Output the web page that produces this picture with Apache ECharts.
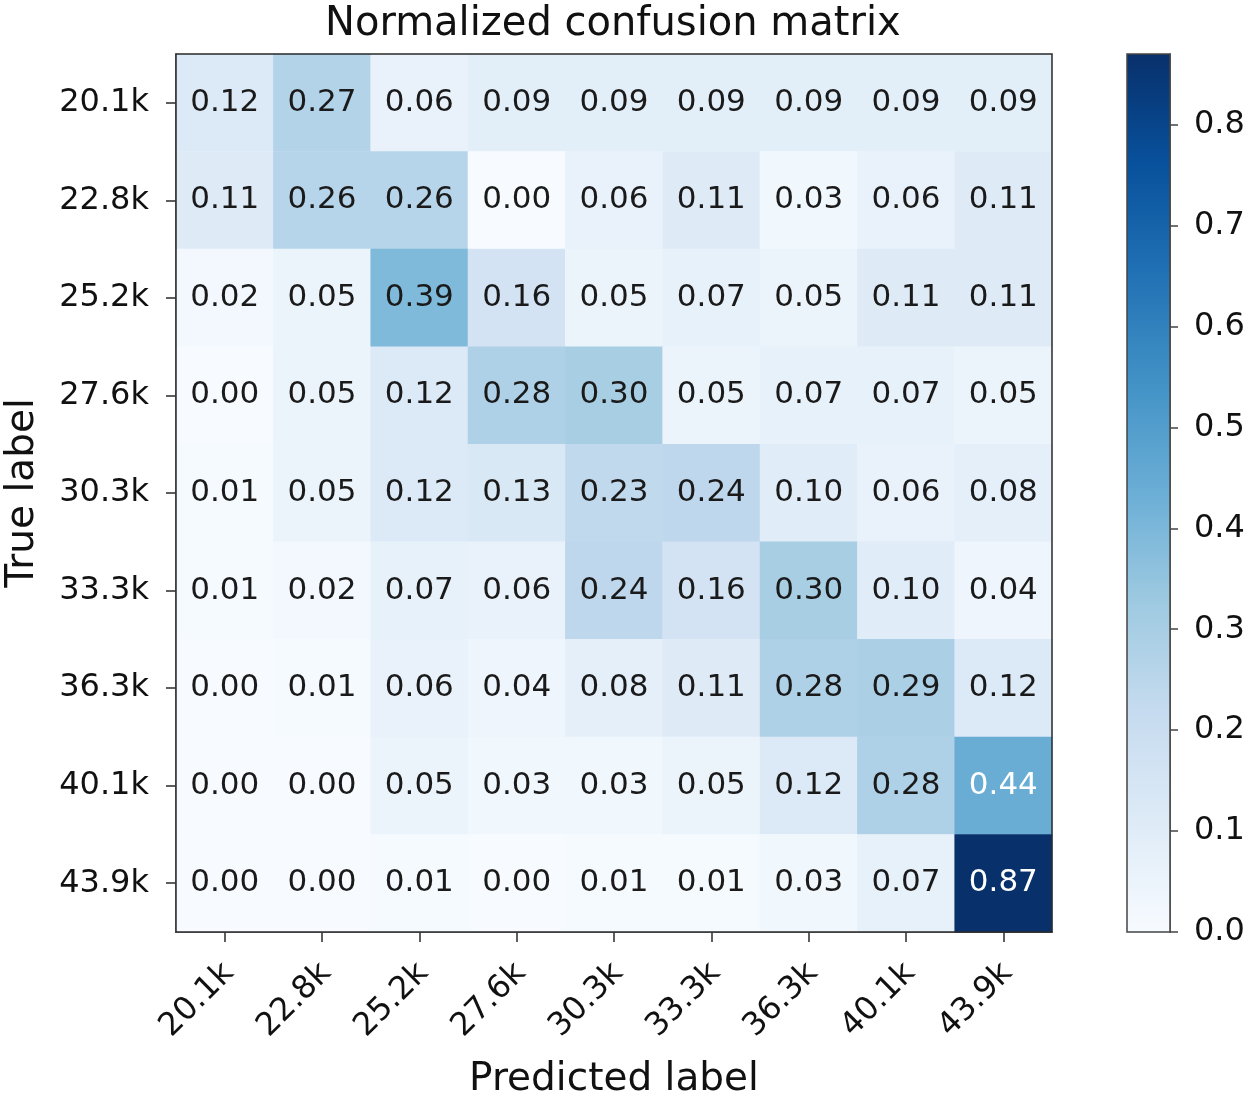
<!DOCTYPE html>
<html>
<head>
<meta charset="utf-8">
<script src="https://cdn.jsdelivr.net/npm/echarts@6/dist/echarts.min.js"></script>
<style>
html,body{margin:0;padding:0;background:#fff;}
#chart{width:1250px;height:1105px;}
</style>
</head>
<body>
<div id="chart"></div>
<script>
// Category labels (true = rows top→bottom, predicted = columns left→right)
var trueLabels = ['20.1k','22.8k','25.2k','27.6k','30.3k','33.3k','36.3k','40.1k','43.9k'];
var predLabels = ['20.1k','22.8k','25.2k','27.6k','30.3k','33.3k','36.3k','40.1k','43.9k'];

// Normalized confusion matrix rows
var row0 = [0.12,0.27,0.06,0.09,0.09,0.09,0.09,0.09,0.09];
var row1 = [0.11,0.26,0.26,0.00,0.06,0.11,0.03,0.06,0.11];
var row2 = [0.02,0.05,0.39,0.16,0.05,0.07,0.05,0.11,0.11];
var row3 = [0.00,0.05,0.12,0.28,0.30,0.05,0.07,0.07,0.05];
var row4 = [0.01,0.05,0.12,0.13,0.23,0.24,0.10,0.06,0.08];
var row5 = [0.01,0.02,0.07,0.06,0.24,0.16,0.30,0.10,0.04];
var row6 = [0.00,0.01,0.06,0.04,0.08,0.11,0.28,0.29,0.12];
var row7 = [0.00,0.00,0.05,0.03,0.03,0.05,0.12,0.28,0.44];
var row8 = [0.00,0.00,0.01,0.00,0.01,0.01,0.03,0.07,0.87];
var matrix = [row0,row1,row2,row3,row4,row5,row6,row7,row8];

// Colour-bar tick labels
var cbarTicks = ['0.0','0.1','0.2','0.3','0.4','0.5','0.6','0.7','0.8'];

// matplotlib "Blues"
var blues = ['#f7fbff','#deebf7','#c6dbef','#9ecae1','#6baed6','#4292c6','#2171b5','#08519c','#08306b'];

var vmax = 0;
matrix.forEach(function(r){ r.forEach(function(v){ if (v > vmax) vmax = v; }); });
var thresh = vmax / 2;

var heatData = [];
matrix.forEach(function(r, i){
  r.forEach(function(v, j){
    heatData.push({
      value: [j, i, v],
      label: { color: v > thresh ? '#ffffff' : '#1a1a1a' }
    });
  });
});

var FONT = 'DejaVu Sans';
var chart = echarts.init(document.getElementById('chart'), null, {renderer:'canvas'});

var gridTop = 54, gridH = 878;

var option = {
  backgroundColor: '#ffffff',
  animation: false,
  title: {
    text: 'Normalized confusion matrix',
    left: 320, top: 0,
    textStyle: { fontFamily: FONT, fontSize: 40, fontWeight: 'normal', color: '#111' }
  },
  grid: [
    { left: 176, top: gridTop, width: 876, height: gridH, show: true, borderColor: '#2a2a2a', borderWidth: 1.5, backgroundColor: 'transparent', z: 10, containLabel: false, outerBoundsMode: 'none' },
    { left: 1127, top: gridTop, width: 43, height: gridH, show: true, borderColor: '#444', borderWidth: 1.5, backgroundColor: 'transparent', z: 10, containLabel: false, outerBoundsMode: 'none' }
  ],
  visualMap: {
    show: false,
    type: 'continuous',
    seriesIndex: 0,
    dimension: 2,
    min: 0, max: vmax,
    inRange: { color: blues }
  },
  xAxis: [
    {
      gridIndex: 0, type: 'category', data: predLabels,
      name: 'Predicted label', nameLocation: 'middle', nameGap: 128, nameMoveOverlap: false,
      nameTextStyle: { fontFamily: FONT, fontSize: 39, color: '#111' },
      axisLine: { show: true, lineStyle: { color: '#2a2a2a', width: 1.5 } },
      axisTick: { show: true, alignWithLabel: true, length: 10, lineStyle: { color: '#2a2a2a', width: 1.5 } },
      axisLabel: { rotate: 45, margin: 18, verticalAlign: 'top', padding: [0, 10, 0, 0], fontFamily: FONT, fontSize: 32, color: '#111', interval: 0 },
      splitLine: { show: false }
    },
    {
      gridIndex: 1, type: 'category', data: [''],
      axisLine: { show: false }, axisTick: { show: false }, axisLabel: { show: false }
    }
  ],
  yAxis: [
    {
      gridIndex: 0, type: 'category', data: trueLabels, inverse: true,
      name: 'True label', nameLocation: 'middle', nameGap: 134, nameRotate: 90, nameMoveOverlap: false,
      nameTextStyle: { fontFamily: FONT, fontSize: 39, color: '#111' },
      axisLine: { show: true, lineStyle: { color: '#2a2a2a', width: 1.5 } },
      axisTick: { show: true, alignWithLabel: true, length: 10, lineStyle: { color: '#2a2a2a', width: 1.5 } },
      axisLabel: { margin: 27, fontFamily: FONT, fontSize: 32, color: '#111', interval: 0 },
      splitLine: { show: false }
    },
    {
      gridIndex: 1, type: 'value', position: 'right',
      min: 0, max: vmax, interval: 0.1,
      axisLine: { show: true, lineStyle: { color: '#444', width: 1.5 } },
      axisTick: { show: true, length: 8, lineStyle: { color: '#444', width: 1.5 } },
      axisLabel: {
        margin: 24, fontFamily: FONT, fontSize: 32, color: '#111', showMaxLabel: false,
        formatter: function(v){
          var idx = Math.round(v * 10);
          return (idx >= 0 && idx < cbarTicks.length && Math.abs(v*10 - idx) < 1e-6) ? cbarTicks[idx] : '';
        }
      },
      splitLine: { show: false }
    }
  ],
  series: [
    {
      type: 'heatmap',
      xAxisIndex: 0, yAxisIndex: 0,
      data: heatData,
      itemStyle: { borderWidth: 0 },
      label: {
        show: true, fontFamily: FONT, fontSize: 31,
        formatter: function(p){ return p.value[2].toFixed(2); }
      },
      emphasis: { disabled: true }
    },
    {
      type: 'bar',
      xAxisIndex: 1, yAxisIndex: 1,
      data: [vmax],
      barWidth: '100%',
      silent: true,
      itemStyle: {
        color: new echarts.graphic.LinearGradient(0, 1, 0, 0, blues.map(function(c, i){
          return { offset: i / (blues.length - 1), color: c };
        }))
      }
    }
  ]
};
chart.setOption(option);
</script>
</body>
</html>
